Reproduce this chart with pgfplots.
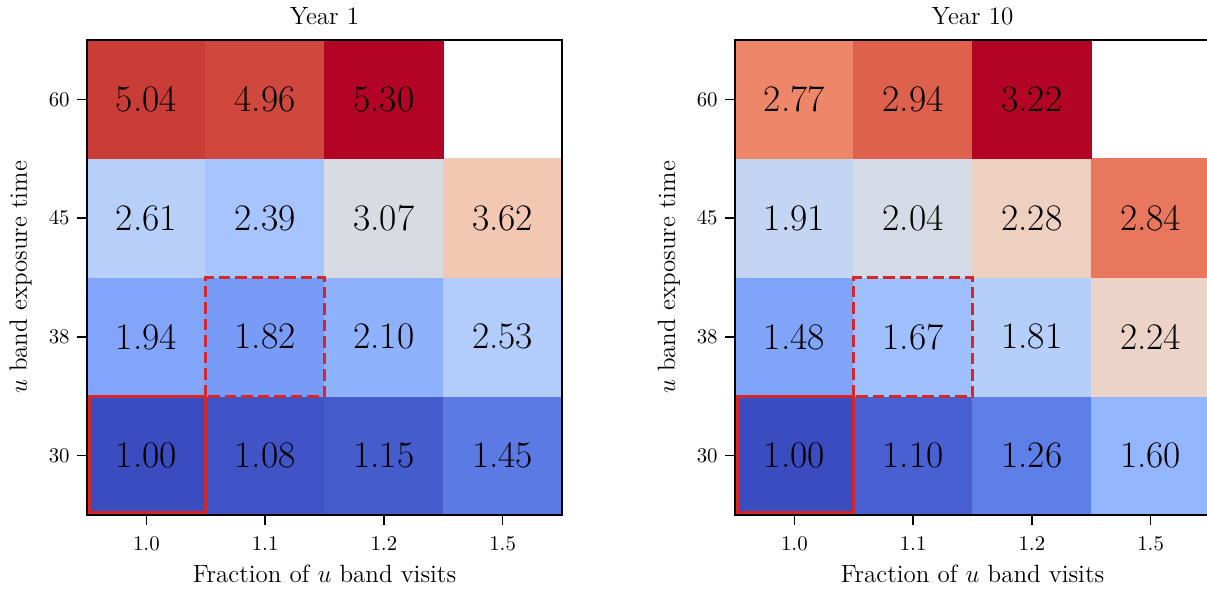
\documentclass[border=0pt]{standalone}
\usepackage{fontspec}
\usepackage{pgfplots}
\pgfplotsset{compat=1.18}

% coolwarm diverging colormap (33 samples)
\pgfplotsset{
  colormap={coolwarm}{
    rgb255=(59,76,192) rgb255=(68,90,204) rgb255=(77,104,215) rgb255=(87,117,225)
    rgb255=(98,130,234) rgb255=(108,142,241) rgb255=(119,154,247) rgb255=(130,165,251)
    rgb255=(141,176,254) rgb255=(152,185,255) rgb255=(163,194,255) rgb255=(174,201,253)
    rgb255=(184,208,249) rgb255=(194,213,244) rgb255=(204,217,238) rgb255=(213,219,230)
    rgb255=(221,221,221) rgb255=(229,216,209) rgb255=(236,211,197) rgb255=(241,204,185)
    rgb255=(245,196,173) rgb255=(247,187,160) rgb255=(247,177,148) rgb255=(247,166,135)
    rgb255=(244,154,123) rgb255=(241,141,111) rgb255=(236,127,99) rgb255=(229,112,88)
    rgb255=(222,96,77) rgb255=(213,80,66) rgb255=(203,62,56) rgb255=(192,40,47)
    rgb255=(180,4,38)
  }
}
\definecolor{tabred}{RGB}{214,39,40}

\pgfplotsset{
  heat/.style={
    scale only axis, width=228pt, height=228pt,
    xmin=-0.5, xmax=3.5, ymin=-0.5, ymax=3.5,
    enlargelimits=false, axis on top, clip marker paths=true,
    xtick={0,1,2,3}, xticklabels={1.0,1.1,1.2,1.5},
    ytick={0,1,2,3}, yticklabels={30,38,45,60},
    tick align=outside, tick pos=left,
    major tick length=4.8pt,
    every tick/.style={black, line width=0.8pt},
    axis line style={line width=0.8pt},
    tick label style={font=\fontsize{10}{12}\selectfont},
    xticklabel style={yshift=-2pt},
    label style={font=\fontsize{12}{14}\selectfont},
    title style={font=\fontsize{12}{14}\selectfont, at={(axis description cs:0.5,1)}, anchor=base, yshift=1.2pt},
    xlabel style={at={([yshift=-32.6pt]axis description cs:0.5,0)}, anchor=base},
    ylabel style={at={([xshift=-28.8pt]axis description cs:0,0.5)}, anchor=base},
    xlabel={Fraction of $u$ band visits},
    ylabel={$u$ band exposure time},
    colormap name=coolwarm,
  },
  % coloured cells
  heatcells/.style={
    scatter, only marks, mark=square*, mark size=28.5pt,
    point meta=explicit,
    scatter/use mapped color={draw=mapped color, fill=mapped color},
  },
  % value printed in each cell
  heatlabels/.style={
    only marks, mark=none, point meta=explicit symbolic,
    nodes near coords,
    nodes near coords align=center,
    every node near coord/.append style={anchor=center, text=black, font=\fontsize{18}{21}\selectfont},
  },
}
\tikzset{
  hilite/.style={tabred, line width=1.5pt, line cap=rect},
  dashhilite/.style={tabred, line width=1.5pt, dash pattern=on 5.5pt off 2.4pt},
}

\begin{document}
\begin{tikzpicture}
\begin{axis}[heat, at={(41.76pt,36pt)}, anchor=south west,
    title={Year 1}, point meta min=1.00, point meta max=5.30]
  % (visit-fraction index, exposure-time index) [relative value]
  \addplot[heatcells] coordinates {
    (0,0) [1.00] (1,0) [1.08] (2,0) [1.15] (3,0) [1.45]
    (0,1) [1.94] (1,1) [1.82] (2,1) [2.10] (3,1) [2.53]
    (0,2) [2.61] (1,2) [2.39] (2,2) [3.07] (3,2) [3.62]
    (0,3) [5.04] (1,3) [4.96] (2,3) [5.30]
  };
  \addplot[heatlabels] coordinates {
    (0,0) [1.00] (1,0) [1.08] (2,0) [1.15] (3,0) [1.45]
    (0,1) [1.94] (1,1) [1.82] (2,1) [2.10] (3,1) [2.53]
    (0,2) [2.61] (1,2) [2.39] (2,2) [3.07] (3,2) [3.62]
    (0,3) [5.04] (1,3) [4.96] (2,3) [5.30]
  };
  \draw[hilite] (axis cs:-0.48,-0.48) rectangle (axis cs:0.5,0.5);
  \draw[dashhilite] (axis cs:0.5,0.5) rectangle (axis cs:1.5,1.5);
\end{axis}
\begin{axis}[heat, at={(352.8pt,36pt)}, anchor=south west,
    title={Year 10}, point meta min=1.00, point meta max=3.22]
  \addplot[heatcells] coordinates {
    (0,0) [1.00] (1,0) [1.10] (2,0) [1.26] (3,0) [1.60]
    (0,1) [1.48] (1,1) [1.67] (2,1) [1.81] (3,1) [2.24]
    (0,2) [1.91] (1,2) [2.04] (2,2) [2.28] (3,2) [2.84]
    (0,3) [2.77] (1,3) [2.94] (2,3) [3.22]
  };
  \addplot[heatlabels] coordinates {
    (0,0) [1.00] (1,0) [1.10] (2,0) [1.26] (3,0) [1.60]
    (0,1) [1.48] (1,1) [1.67] (2,1) [1.81] (3,1) [2.24]
    (0,2) [1.91] (1,2) [2.04] (2,2) [2.28] (3,2) [2.84]
    (0,3) [2.77] (1,3) [2.94] (2,3) [3.22]
  };
  \draw[hilite] (axis cs:-0.48,-0.48) rectangle (axis cs:0.5,0.5);
  \draw[dashhilite] (axis cs:0.5,0.5) rectangle (axis cs:1.5,1.5);
\end{axis}
\pgfresetboundingbox
\useasboundingbox (0,0) rectangle (579.36pt,283.2pt);
\end{tikzpicture}
\end{document}
